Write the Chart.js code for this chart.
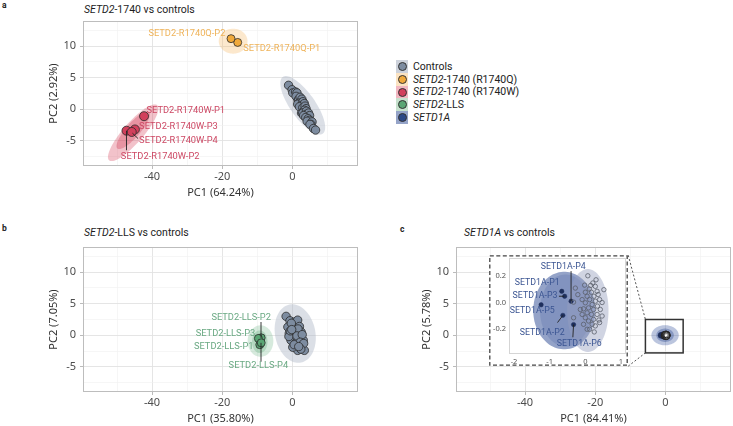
<!DOCTYPE html>
<html>
<head>
<meta charset="utf-8">
<script src="https://cdn.jsdelivr.net/npm/chart.js@4.4.0/dist/chart.umd.min.js"></script>
<style>
    html, body { margin: 0; padding: 0; background: #fff; }
    #page { position: relative; width: 733px; height: 426px; overflow: hidden; font-family: Roboto, sans-serif; }
    canvas { position: absolute; }
    .tag { position: absolute; font: bold 8.5px Roboto, sans-serif; color: #222; }
    .ttl { position: absolute; font: 10.5px Roboto, sans-serif; color: #1d1d1d; white-space: nowrap; line-height: 14px; }
    .legend { position: absolute; left: 396px; top: 60px; font: 10.5px Roboto, sans-serif; color: #222; }
    .legend div { height: 12.75px; display: flex; align-items: center; white-space: nowrap; }
    .key { width: 12px; height: 12.75px; display: inline-block; position: relative; margin-right: 5px; }
    .key b { position: absolute; left: 1.5px; top: 2px; width: 9px; height: 9px; border-radius: 50%; border: 0.8px solid #333; box-sizing: border-box; }
</style>
</head>
<body>
<div id="page">
    <div class="tag" style="left:2px;top:0px">a</div>
    <div class="tag" style="left:2px;top:223px">b</div>
    <div class="tag" style="left:400px;top:224px">c</div>
    <div class="ttl" style="left:84px;top:3px"><i>SETD2</i>-1740 vs controls</div>
    <div class="ttl" style="left:84px;top:226px"><i>SETD2</i>-LLS vs controls</div>
    <div class="ttl" style="left:464px;top:226px"><i>SETD1A</i> vs controls</div>

    <canvas id="pa" width="370" height="206" style="left:0;top:0"></canvas>
    <canvas id="pb" width="370" height="206" style="left:0;top:226px"></canvas>
    <canvas id="pc" width="370" height="206" style="left:373px;top:226px"></canvas>
    <canvas id="inset"></canvas>

    <div class="legend">
        <div><i class="key" style="background:#cdd2db"><b style="background:#7d8ca0"></b></i>Controls</div>
        <div><i class="key" style="background:#fbe3c2"><b style="background:#f0a93c"></b></i><i>SETD2</i>-1740 (R1740Q)</div>
        <div><i class="key" style="background:#f2b7c1"><b style="background:#d2405c"></b></i><i>SETD2</i>-1740 (R1740W)</div>
        <div><i class="key" style="background:#c6e1cd"><b style="background:#5aa674"></b></i><i>SETD2</i>-LLS</div>
        <div><i class="key" style="background:#95a4c8"><b style="background:#2c4987"></b></i><i>SETD1A</i></div>
    </div>
</div>

<script>
// ---- data (PC1, PC2 scores) ----
const controlsA = [[-1.1, 3.8], [-0.1, 3.1], [0.1, 2.6], [0.9, 2.75], [1.3, 2.6], [1.05, 2.05], [1.6, 1.4],
    [1.8, 1.55], [2.2, 1.9], [2.7, 1.6], [2.0, 1.0], [1.5, 0.8], [3.0, 1.2], [2.5, 0.6], [3.4, 0.9], [2.0, 0.4],
    [2.95, 0.25], [3.6, 0.5], [3.9, 0.1], [3.4, -0.15], [2.6, -0.6], [2.95, -0.6], [4.0, -0.3], [3.9, -0.8],
    [4.6, -0.6], [3.2, -1.0], [4.4, -1.2], [4.9, -1.0], [3.8, -1.3], [4.5, -1.5], [4.9, -1.75], [4.2, -1.9],
    [5.6, -2.0], [5.3, -2.4], [5.0, -2.4], [6.0, -3.05], [6.6, -3.3]];
const r1740q = [[-15.6, 10.6], [-17.5, 11.2]];                         // P1, P2
const r1740w = [[-42.3, -1.1], [-47.3, -3.4], [-44.9, -3.2], [-45.8, -3.6]]; // P1..P4

const controlsB = [[-1.8, 3.0], [-0.7, 2.3], [0.6, 2.1], [1.5, 2.4], [2.0, 1.4], [-1.3, 1.3], [0.1, 1.1],
    [1.0, 0.5], [2.5, 0.5], [-0.9, 0.3], [0.6, -0.3], [2.0, -0.5], [3.1, -0.8], [-0.4, -0.8], [1.0, -1.2],
    [2.5, -1.6], [3.4, -2.4], [1.5, -2.4], [0.1, -1.9], [-0.3, 1.9], [0.3, 0.3], [1.6, 1.0], [-1.0, -0.2],
    [1.3, -0.1], [2.8, 0.1], [2.2, -1.1], [0.5, -1.5], [-0.6, 0.7], [3.2, -1.3], [2.4, -2.2], [1.8, -1.8],
    [-0.2, 0.9]];
const lls = [[-9.3, -1.5], [-8.9, -0.4], [-9.7, -0.5], [-8.9, -1.2]];      // P1..P4

const controlsC = [[0.21, 0.146], [0.28, 0.121], [0.11, 0.101], [0.0, 0.077], [0.17, 0.077], [0.33, 0.084],
    [0.24, 0.047], [0.05, 0.047], [-0.09, 0.022], [0.12, 0.022], [0.28, 0.01], [0.4, 0.022], [0.0, -0.002],
    [0.19, -0.015], [0.34, -0.027], [0.09, -0.04], [-0.05, -0.047], [0.23, -0.052], [0.42, -0.052],
    [0.05, -0.077], [0.17, -0.089], [0.33, -0.089], [0.0, -0.114], [0.23, -0.126], [0.09, -0.138],
    [0.38, -0.131], [-0.05, -0.163], [0.19, -0.163], [0.05, -0.2], [0.28, -0.175], [-0.28, 0.108],
    [-0.21, 0.059], [-0.33, 0.003], [-0.14, -0.052], [-0.33, -0.114], [-0.09, -0.089], [0.52, 0.096],
    [0.47, -0.101], [0.47, 0.0], [0.15, 0.128], [0.07, 0.2], [0.3, 0.17], [0.12, -0.2], [0.25, -0.22],
    [0.4, -0.15], [-0.02, 0.13], [0.36, 0.06]];
const setd1a = [[-0.66, 0.084], [-0.63, -0.096], [-0.58, 0.047], [-0.4, 0.01], [-1.24, -0.017], [-0.33, -0.165]];

// confidence ellipses: [cx, cy, axis1 dx, dy, axis2 dx, dy] in data units
const ellCtrlA = [2.95, 0.63, 5.7, -4.5, 2.9, 1.14];
const ellQ = [-16.9, 10.8, 4.1, 0, 0, 1.98];
const ellWOuter = [-45.4, -3.73, 6.86, 4.37, 2.15, -1.05];
const ellWInner = [-45.4, -3.33, 4.5, 2.9, 1.5, -0.73];
const ellCtrlB = [0.8, 0.27, 1.66, -4.6, 5.63, 0.63];
const ellLlsOuter = [-9.1, -0.92, 3.66, 0, 0, 2.5];
const ellLlsInner = [-9.3, -1.03, 2.2, 0, 0, 1.8];
const ellD1Outer = [-0.1, 0, 3.9, 0, 0, 1.6];
const ellD1Inner = [-0.1, 0, 2.5, 0, 0, 1.06];
const ellInsetD1 = [-0.59, -0.06, 0.87, 0, 0, 0.29];
const ellInsetD1Core = [-0.55, -0.06, 0.72, 0, 0, 0.27];
const ellInsetCtrl = [0.07, -0.06, 0.58, 0, 0, 0.31];

// zoom window on panel c and where the inset sits (panel c data units: x0, x1, y0, y1)
const zoomBox = [-5.7, 5.06, -2.8, 2.5];
const insetBox = [-50.3, -10.6, -4.9, 12.7];

const ORANGE = "#efb359", RED = "#cd4864", GREEN = "#6aa983", BLUE = "#3b5592";

Chart.defaults.font.family = "Roboto, sans-serif";
Chart.defaults.animation = false;

const toXY = arr => arr.map(([x, y]) => ({ x, y }));

// keep the plot area exactly where layout padding + fixed axis sizes put it
function fixSize(prop, size) {
    return s => {
        s[prop] = size;
        s.paddingTop = 0; s.paddingBottom = 0; s.paddingLeft = 0; s.paddingRight = 0;
    };
}

function drawEllipse(chart, e, color) {
    const { ctx, scales: { x, y } } = chart;
    ctx.beginPath();
    for (let i = 0; i <= 90; i++) {
        const t = i / 90 * Math.PI * 2;
        const px = x.getPixelForValue(e[0] + Math.cos(t) * e[2] + Math.sin(t) * e[4]);
        const py = y.getPixelForValue(e[1] + Math.cos(t) * e[3] + Math.sin(t) * e[5]);
        if (i === 0) ctx.moveTo(px, py); else ctx.lineTo(px, py);
    }
    ctx.closePath();
    ctx.fillStyle = color;
    ctx.fill();
}

const pcaPlugin = {
    id: "pca",
    beforeDraw(chart, args, opts) {
        if (opts.background) {
            chart.ctx.save();
            chart.ctx.fillStyle = opts.background;
            chart.ctx.fillRect(0, 0, chart.width, chart.height);
            chart.ctx.restore();
        }
    },
    beforeDatasetsDraw(chart, args, opts) {
        const { ctx, chartArea: a } = chart;
        ctx.save();
        ctx.beginPath();
        ctx.rect(a.left, a.top, a.right - a.left, a.bottom - a.top);
        ctx.clip();
        (opts.ellipses || []).forEach(el => drawEllipse(chart, el.e, el.color));
        ctx.restore();
    },
    afterDatasetsDraw(chart, args, opts) {
        const { ctx, chartArea: a, scales: { x, y } } = chart;
        ctx.save();
        (opts.labels || []).forEach(l => {
            if (l.line) {
                ctx.beginPath();
                ctx.moveTo(x.getPixelForValue(l.line[0][0]), y.getPixelForValue(l.line[0][1]));
                ctx.lineTo(x.getPixelForValue(l.line[1][0]), y.getPixelForValue(l.line[1][1]));
                ctx.strokeStyle = "#222";
                ctx.lineWidth = 0.9;
                ctx.stroke();
            }
            ctx.font = opts.labelFont;
            ctx.fillStyle = l.color;
            ctx.textAlign = l.align;
            ctx.textBaseline = "middle";
            ctx.fillText(l.text, x.getPixelForValue(l.at[0]), y.getPixelForValue(l.at[1]));
        });
        // panel border
        ctx.strokeStyle = opts.border || "#bdbdbd";
        ctx.lineWidth = 1;
        ctx.strokeRect(Math.round(a.left) + 0.5, Math.round(a.top) + 0.5,
            Math.round(a.right - a.left) - 1, Math.round(a.bottom - a.top) - 1);
        // zoom box and connectors (panel c only)
        if (opts.zoom) {
            const [zx0, zx1, zy0, zy1] = opts.zoom;
            const [ix0, ix1, iy0, iy1] = opts.inset;
            const X = v => x.getPixelForValue(v), Y = v => y.getPixelForValue(v);
            ctx.setLineDash([2, 2]);
            ctx.strokeStyle = "#555";
            ctx.lineWidth = 1;
            ctx.beginPath();
            ctx.moveTo(X(ix1), Y(iy1)); ctx.lineTo(X(zx0), Y(zy1));
            ctx.moveTo(X(ix1), Y(iy0)); ctx.lineTo(X(zx0), Y(zy0));
            ctx.stroke();
            ctx.setLineDash([]);
            ctx.strokeStyle = "#333";
            ctx.lineWidth = 1.5;
            ctx.strokeRect(X(zx0), Y(zy1), X(zx1) - X(zx0), Y(zy0) - Y(zy1));
        }
        ctx.restore();
    },
    afterDraw(chart, args, opts) {
        if (!opts.dashedFrame) return;
        const ctx = chart.ctx;
        ctx.save();
        ctx.setLineDash([4, 2.5]);
        ctx.strokeStyle = "#444";
        ctx.lineWidth = 1.3;
        ctx.strokeRect(0.8, 0.8, chart.width - 1.6, chart.height - 1.6);
        ctx.restore();
    }
};

const tickFont = { family: '"Noto Sans", sans-serif', size: 11 };
const isMajorX = c => c.tick && c.tick.value % 20 === 0;
const isMajorY = c => c.tick && c.tick.value % 5 === 0;

function mainScales(xTitle, yTitle) {
    return {
        x: {
            type: "linear", min: -59.7, max: 18.7,
            ticks: {
                stepSize: 10, includeBounds: false, autoSkip: false, maxRotation: 0, padding: 1.4,
                color: "#4d4d4d", font: tickFont,
                callback: v => v % 20 === 0 ? String(v) : ""
            },
            grid: {
                color: c => isMajorX(c) ? "#e2e2e2" : "#f0f0f0",
                lineWidth: c => isMajorX(c) ? 0.9 : 0.6,
                tickLength: 3,
                tickColor: c => isMajorX(c) ? "#b3b3b3" : "rgba(0,0,0,0)"
            },
            border: { display: false },
            title: { display: true, text: xTitle, color: "#333", font: tickFont, padding: { top: 0, bottom: 6.4 } },
            afterFit: fixSize("height", 40)
        },
        y: {
            type: "linear", min: -9, max: 14,
            ticks: {
                stepSize: 2.5, includeBounds: false, autoSkip: false, padding: 4,
                color: "#4d4d4d", font: tickFont,
                callback: v => v % 5 === 0 ? String(v) : ""
            },
            grid: {
                color: c => isMajorY(c) ? "#e2e2e2" : "#f0f0f0",
                lineWidth: c => isMajorY(c) ? 0.9 : 0.6,
                tickLength: 3,
                tickColor: c => isMajorY(c) ? "#b3b3b3" : "rgba(0,0,0,0)"
            },
            border: { display: false },
            title: { display: true, text: yTitle, color: "#333", font: tickFont, padding: { top: 47, bottom: 0 } },
            afterFit: fixSize("width", 83)
        }
    };
}

function pointSet(arr, fill, radius) {
    return {
        data: toXY(arr), backgroundColor: fill, borderColor: "#2a2a2a", borderWidth: 0.8,
        pointRadius: radius, pointHoverRadius: radius
    };
}

function baseOptions(xTitle, yTitle, pca) {
    return {
        responsive: false, devicePixelRatio: 1,
        layout: { autoPadding: false, padding: { left: 0, right: 12, top: 21, bottom: 0 } },
        scales: mainScales(xTitle, yTitle),
        plugins: { legend: { display: false }, tooltip: { enabled: false }, pca: pca }
    };
}

// ---- panel a ----
new Chart(document.getElementById("pa"), {
    type: "scatter",
    data: {
        datasets: [
            pointSet(controlsA, "#7d8ca0", 4.2),
            pointSet(r1740q, "#f0a93c", 4),
            pointSet(r1740w, "#d2405c", 4.5)
        ]
    },
    options: baseOptions("PC1 (64.24%)", "PC2 (2.92%)", {
        labelFont: "9.3px Roboto, sans-serif",
        ellipses: [
            { e: ellCtrlA, color: "rgba(176,184,200,0.45)" },
            { e: ellQ, color: "rgba(245,185,100,0.32)" },
            { e: ellWOuter, color: "rgba(215,70,95,0.33)" },
            { e: ellWInner, color: "rgba(210,60,85,0.35)" }
        ],
        labels: [
            { text: "SETD2-R1740Q-P2", at: [-19.1, 12.0], align: "right", color: ORANGE },
            { text: "SETD2-R1740Q-P1", at: [-14.0, 9.63], align: "left", color: ORANGE },
            { text: "SETD2-R1740W-P1", at: [-41.6, -0.16], align: "left", color: RED },
            { text: "SETD2-R1740W-P3", at: [-43.7, -2.7], align: "left", color: RED },
            { text: "SETD2-R1740W-P4", at: [-43.7, -5.03], align: "left", color: RED, line: [[-45.6, -3.8], [-44.0, -4.65]] },
            { text: "SETD2-R1740W-P2", at: [-37.7, -7.46], align: "center", color: RED, line: [[-47.3, -3.4], [-47.3, -6.5]] }
        ]
    }),
    plugins: [pcaPlugin]
});

// ---- panel b ----
new Chart(document.getElementById("pb"), {
    type: "scatter",
    data: {
        datasets: [
            pointSet(controlsB, "#7d8ca0", 4.2),
            pointSet(lls, "#5aa674", 4)
        ]
    },
    options: baseOptions("PC1 (35.80%)", "PC2 (7.05%)", {
        labelFont: "9.3px Roboto, sans-serif",
        ellipses: [
            { e: ellCtrlB, color: "rgba(176,184,200,0.45)" },
            { e: ellLlsOuter, color: "rgba(90,170,120,0.25)" },
            { e: ellLlsInner, color: "rgba(90,170,120,0.3)" }
        ],
        labels: [
            { text: "SETD2-LLS-P2", at: [-14.6, 2.86], align: "center", color: GREEN, line: [[-8.95, 2.1], [-8.95, -0.4]] },
            { text: "SETD2-LLS-P3", at: [-10.6, 0.32], align: "right", color: GREEN },
            { text: "SETD2-LLS-P1", at: [-11.1, -1.75], align: "right", color: GREEN },
            { text: "SETD2-LLS-P4", at: [-9.7, -4.9], align: "center", color: GREEN, line: [[-8.95, -4.2], [-8.95, -1.2]] }
        ]
    }),
    plugins: [pcaPlugin]
});

// ---- panel c ----
const chartC = new Chart(document.getElementById("pc"), {
    type: "scatter",
    data: {
        datasets: [
            { data: toXY(controlsC), backgroundColor: "rgba(255,255,255,0.25)", borderColor: "#222", borderWidth: 1, pointRadius: 3, pointHoverRadius: 3 },
            { data: toXY(setd1a), backgroundColor: "#1e2f5c", borderColor: "#1e2f5c", borderWidth: 0.5, pointRadius: 3, pointHoverRadius: 3 }
        ]
    },
    options: baseOptions("PC1 (84.41%)", "PC2 (5.78%)", {
        labelFont: "9px Roboto, sans-serif",
        ellipses: [
            { e: ellD1Outer, color: "rgba(60,90,160,0.35)" },
            { e: ellD1Inner, color: "rgba(40,70,140,0.35)" }
        ],
        labels: [],
        zoom: zoomBox,
        inset: insetBox
    }),
    plugins: [pcaPlugin]
});

// ---- inset of panel c, placed over the dashed box ----
const sx = chartC.scales.x, sy = chartC.scales.y;
const insetCanvas = document.getElementById("inset");
const il = Math.round(373 + sx.getPixelForValue(insetBox[0]));
const it = Math.round(226 + sy.getPixelForValue(insetBox[3]));
const ir = Math.round(373 + sx.getPixelForValue(insetBox[1]));
const ib = Math.round(226 + sy.getPixelForValue(insetBox[2]));
insetCanvas.width = ir - il;
insetCanvas.height = ib - it;
insetCanvas.style.left = il + "px";
insetCanvas.style.top = it + "px";

const insetTickFont = { family: '"Noto Sans", sans-serif', size: 7.5 };
new Chart(insetCanvas, {
    type: "scatter",
    data: {
        datasets: [
            { data: toXY(controlsC), backgroundColor: "rgba(0,0,0,0)", borderColor: "#5b5f6b", borderWidth: 0.8, pointRadius: 2.2, pointHoverRadius: 2.2 },
            { data: toXY(setd1a), backgroundColor: "#1e2f5c", borderColor: "#1e2f5c", borderWidth: 0.5, pointRadius: 2.2, pointHoverRadius: 2.2 }
        ]
    },
    options: {
        responsive: false, devicePixelRatio: 1,
        layout: { autoPadding: false, padding: { left: 0, right: 2, top: 3, bottom: 0 } },
        scales: {
            x: {
                type: "linear", min: -2.14, max: 1.14,
                ticks: { stepSize: 1, includeBounds: false, autoSkip: false, maxRotation: 0, padding: 3, color: "#555", font: insetTickFont },
                grid: { display: false, drawTicks: false }, border: { display: false },
                afterFit: fixSize("height", 12)
            },
            y: {
                type: "linear", min: -0.385, max: 0.333,
                ticks: { stepSize: 0.2, includeBounds: false, autoSkip: false, padding: 3, color: "#555", font: insetTickFont,
                    callback: v => v.toFixed(1) },
                grid: { display: false, drawTicks: false }, border: { display: false },
                afterFit: fixSize("width", 20)
            }
        },
        plugins: {
            legend: { display: false }, tooltip: { enabled: false },
            pca: {
                background: "#fff",
                border: "#d5d5d5",
                dashedFrame: true,
                labelFont: "8.8px Roboto, sans-serif",
                ellipses: [
                    { e: ellInsetD1, color: "rgba(60,88,155,0.55)" },
                    { e: ellInsetD1Core, color: "rgba(50,80,150,0.18)" },
                    { e: ellInsetCtrl, color: "rgba(150,160,190,0.45)" }
                ],
                labels: [
                    { text: "SETD1A-P4", at: [-0.62, 0.27], align: "center", color: BLUE, line: [[-0.4, 0.235], [-0.4, 0.01]] },
                    { text: "SETD1A-P1", at: [-0.72, 0.145], align: "right", color: BLUE },
                    { text: "SETD1A-P3", at: [-0.78, 0.047], align: "right", color: BLUE, line: [[-0.74, 0.047], [-0.59, 0.047]] },
                    { text: "SETD1A-P5", at: [-1.49, -0.06], align: "center", color: BLUE },
                    { text: "SETD1A-P2", at: [-1.21, -0.225], align: "center", color: BLUE, line: [[-0.78, -0.15], [-0.63, -0.096]] },
                    { text: "SETD1A-P6", at: [-0.17, -0.31], align: "center", color: BLUE, line: [[-0.35, -0.26], [-0.33, -0.165]] }
                ]
            }
        }
    },
    plugins: [pcaPlugin]
});
</script>
</body>
</html>
